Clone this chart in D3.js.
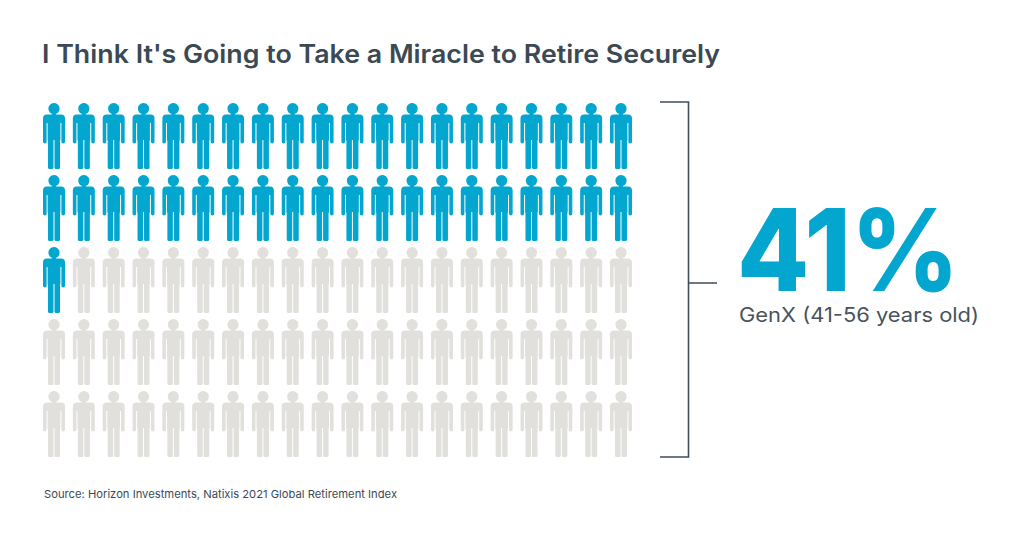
<!DOCTYPE html>
<html><head><meta charset="utf-8">
<script src="https://cdn.jsdelivr.net/npm/d3@7"></script>
<style>html,body{margin:0;background:#fff}svg{display:block}text{font-family:Inter,Lato,sans-serif}</style>
</head><body><svg id="c" width="1024" height="535"></svg>
<script>
const titleText = "I Think It's Going to Take a Miracle to Retire Securely";
const sourceText = "Source: Horizon Investments, Natixis 2021 Global Retirement Index";
const statText = "41%";
const statLabel = "GenX (41-56 years old)";
const statValue = 41;
const totalPeople = 100;
const columnCount = 20;
const rowCount = 5;

const svg = d3.select("#c");
const x = d3.scalePoint().domain(d3.range(columnCount)).range([54, 621]);
const y = d3.scalePoint().domain(d3.range(rowCount)).range([103, 391]);

// person glyph, local coords: x centred on 0, y from head top at 0
const person = "M0,0a5.6,5.6 0 1 1 -0.01,0Z M-2,10H2V13H-2Z" +
 "M-7,11.6H7Q11,11.6 11,15.6V38.7a1.8,1.8 0 0 1 -3.6,0V20H6.4V37.5H6V64.4a1.6,1.6 0 0 1 -1.6,1.6H2.1a1.6,1.6 0 0 1 -1.6,-1.6V37H-0.5V64.4a1.6,1.6 0 0 1 -1.6,1.6H-4.4a1.6,1.6 0 0 1 -1.6,-1.6V37.5H-6.4V20H-7.4V38.7a1.8,1.8 0 0 1 -3.6,0V15.6Q-11,11.6 -7,11.6Z";

const people = d3.range(totalPeople).map(i => ({i, col: i % columnCount, row: Math.floor(i / columnCount)}));
svg.append("g").selectAll("path").data(people).join("path")
  .attr("d", person)
  .attr("transform", d => `translate(${x(d.col)},${y(d.row)})`)
  .attr("fill", d => d.i < statValue ? "#03a6cf" : "#e1e0dc");

const bracket = d3.path();
bracket.moveTo(660, 102); bracket.lineTo(688.5, 102); bracket.lineTo(688.5, 457); bracket.lineTo(660, 457);
bracket.moveTo(688.5, 283); bracket.lineTo(717, 283);
svg.append("path").attr("d", bracket.toString()).attr("fill", "none").attr("stroke", "#414e59").attr("stroke-width", 1.6);

svg.append("text").attr("x", 42).attr("y", 63).attr("font-size", 25).attr("font-weight", 600)
  .attr("fill", "#3b4954").attr("textLength", 678).attr("lengthAdjust", "spacingAndGlyphs").text(titleText);
svg.append("text").attr("x", 737).attr("y", 291).attr("font-size", 114).attr("font-weight", 800)
  .attr("fill", "#03a6cf").attr("textLength", 222).attr("lengthAdjust", "spacingAndGlyphs").text(statText);
svg.append("text").attr("x", 739).attr("y", 322).attr("font-size", 20)
  .attr("fill", "#47535d").attr("textLength", 240).attr("lengthAdjust", "spacingAndGlyphs").text(statLabel);
svg.append("text").attr("x", 44).attr("y", 498).attr("font-size", 11)
  .attr("fill", "#3b4954").attr("textLength", 353).attr("lengthAdjust", "spacingAndGlyphs").text(sourceText);
</script></body></html>
